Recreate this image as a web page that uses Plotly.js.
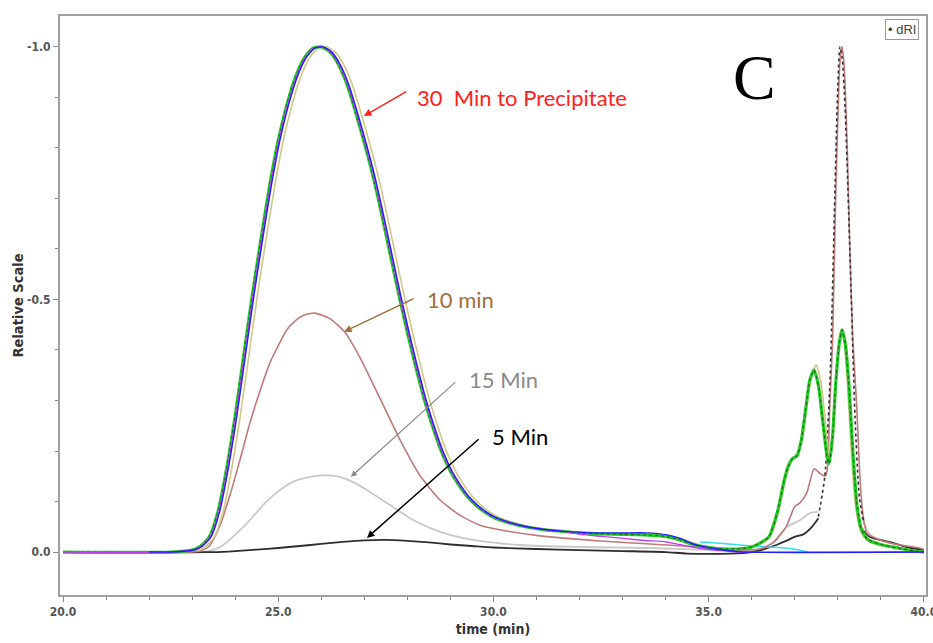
<!DOCTYPE html>
<html>
<head>
<meta charset="utf-8">
<script src="https://cdn.plot.ly/plotly-3.0.1.min.js"></script>
<style>html,body{margin:0;padding:0;background:#fff;overflow:hidden;}#chart{width:933px;height:643px;}</style>
</head>
<body>
<div id="chart"></div>
<script>
// ---- 30 min to precipitate (green, main overlaid runs) ----
const tGreen = [20.0, 22.5, 23.0, 23.2, 23.4, 23.6, 23.8, 24.0, 24.2, 24.4, 24.6, 24.8, 25.0, 25.2, 25.4, 25.6, 25.8, 26.0, 26.2, 26.4, 26.6, 26.8, 27.0, 27.2, 27.4, 27.6, 27.8, 28.0, 28.2, 28.4, 28.6, 28.8, 29.0, 29.2, 29.4, 29.6, 29.8, 30.0, 30.4, 30.8, 31.2, 31.6, 32.0, 32.5, 33.0, 33.5, 34.0, 34.3, 34.6, 35.0, 35.4, 35.8, 36.0, 36.2, 36.4, 36.6, 36.75, 36.85, 36.95, 37.05, 37.15, 37.25, 37.35, 37.45, 37.55, 37.65, 37.75, 37.8, 37.88, 37.95, 38.03, 38.1, 38.18, 38.26, 38.35, 38.45, 38.55, 38.7, 39.0, 39.4, 39.8, 40.0];
const yGreen = [0, 0, 0.004, 0.012, 0.03, 0.08, 0.165, 0.27, 0.39, 0.51, 0.62, 0.725, 0.815, 0.885, 0.94, 0.977, 0.997, 1.0, 0.99, 0.965, 0.925, 0.87, 0.81, 0.745, 0.67, 0.59, 0.51, 0.435, 0.365, 0.3, 0.245, 0.197, 0.16, 0.132, 0.109, 0.092, 0.079, 0.069, 0.057, 0.049, 0.044, 0.041, 0.038, 0.036, 0.035, 0.034, 0.031, 0.025, 0.016, 0.009, 0.006, 0.007, 0.01, 0.018, 0.03, 0.08, 0.14, 0.17, 0.185, 0.19, 0.22, 0.28, 0.34, 0.36, 0.33, 0.26, 0.19, 0.175, 0.23, 0.33, 0.41, 0.44, 0.41, 0.33, 0.2, 0.09, 0.045, 0.025, 0.015, 0.008, 0.002, 0];

const tBlue = [22.0, 22.54, 23.04, 23.24, 23.44, 23.64, 23.84, 24.04, 24.24, 24.44, 24.64, 24.84, 25.04, 25.24, 25.44, 25.64, 25.84, 26.04, 26.24, 26.44, 26.64, 26.84, 27.04, 27.24, 27.44, 27.64, 27.84, 28.04, 28.24, 28.44, 28.64, 28.84, 29.04, 29.24, 29.44, 29.64, 29.84, 30.04, 30.44, 30.84, 31.24, 31.64, 32.04, 32.54, 33.04, 33.54, 34.04, 34.34, 34.64, 35.04, 35.44, 35.8, 40.0];
const yBlue = [0, 0, 0.004, 0.012, 0.03, 0.08, 0.165, 0.27, 0.39, 0.51, 0.62, 0.725, 0.815, 0.885, 0.94, 0.977, 0.997, 1.0, 0.99, 0.965, 0.925, 0.87, 0.81, 0.745, 0.67, 0.59, 0.51, 0.435, 0.365, 0.3, 0.245, 0.197, 0.16, 0.132, 0.109, 0.092, 0.079, 0.069, 0.057, 0.049, 0.044, 0.041, 0.039, 0.038, 0.038, 0.038, 0.034, 0.027, 0.016, 0.008, 0.003, 0, 0];

const tMagenta = [20.0, 22.52, 23.02, 23.22, 23.42, 23.62, 23.82, 24.02, 24.22, 24.42, 24.62, 24.82, 25.02, 25.22, 25.42, 25.62, 25.82, 26.02, 26.22, 26.42, 26.62, 26.82, 27.02, 27.22, 27.42, 27.62, 27.82, 28.02, 28.22, 28.42, 28.62, 28.82, 29.02, 29.22, 29.42, 29.62, 29.82, 30.02, 30.42, 30.82, 31.22, 31.62, 32.02, 32.52, 33.02, 33.52, 34.02, 34.32, 34.62, 35.02, 35.42, 35.8, 40.0];
const yMagenta = [0, 0, 0.004, 0.012, 0.03, 0.08, 0.165, 0.27, 0.39, 0.51, 0.62, 0.725, 0.815, 0.885, 0.94, 0.977, 0.997, 1.0, 0.99, 0.965, 0.925, 0.87, 0.81, 0.745, 0.67, 0.59, 0.51, 0.435, 0.365, 0.3, 0.245, 0.197, 0.16, 0.132, 0.109, 0.092, 0.079, 0.069, 0.057, 0.049, 0.044, 0.041, 0.035, 0.031, 0.027, 0.023, 0.02, 0.015, 0.01, 0.005, 0.002, 0, 0];

const tOlive = [22.5, 23.12, 23.32, 23.52, 23.72, 23.92, 24.12, 24.32, 24.52, 24.72, 24.92, 25.12, 25.32, 25.52, 25.72, 25.92, 26.12, 26.32, 26.52, 26.72, 26.92, 27.12, 27.32, 27.52, 27.72, 27.92, 28.12, 28.32, 28.52, 28.72, 28.92, 29.12, 29.32, 29.52, 29.72, 29.92, 30.12, 30.52, 30.92, 31.32, 31.72, 32.12, 32.62, 33.12, 33.62, 34.12, 34.42, 34.72, 35.12, 35.52, 35.9, 36.1, 36.3, 36.5, 36.65, 36.8, 36.9, 37.0, 37.1, 37.2, 37.3, 37.4, 37.5, 37.6, 37.7, 37.8, 37.85, 37.92, 38.0, 38.07, 38.14, 38.22, 38.3, 38.4, 38.5, 38.6, 38.75, 39.05, 39.45, 39.85, 40.0];
const yOlive = [0, 0.004, 0.012, 0.03, 0.08, 0.165, 0.27, 0.39, 0.51, 0.62, 0.725, 0.815, 0.885, 0.94, 0.977, 0.997, 1.0, 0.99, 0.965, 0.925, 0.87, 0.81, 0.745, 0.67, 0.59, 0.51, 0.435, 0.365, 0.3, 0.245, 0.197, 0.16, 0.132, 0.109, 0.092, 0.079, 0.069, 0.057, 0.049, 0.044, 0.041, 0.038, 0.036, 0.035, 0.034, 0.031, 0.025, 0.016, 0.009, 0.006, 0.008, 0.012, 0.02, 0.045, 0.09, 0.15, 0.175, 0.19, 0.2, 0.235, 0.3, 0.355, 0.37, 0.34, 0.27, 0.19, 0.2, 0.3, 0.39, 0.44, 0.42, 0.34, 0.22, 0.1, 0.05, 0.03, 0.02, 0.012, 0.007, 0.002, 0];

const tCyan = [34.8, 35.2, 35.6, 36.0, 36.4, 36.8, 37.1, 37.3];
const yCyan = [0.02, 0.018, 0.015, 0.012, 0.01, 0.008, 0.004, 0];

// ---- 10 min ----
const t10 = [20.0, 23.0, 23.2, 23.4, 23.65, 23.88, 24.11, 24.34, 24.58, 24.81, 25.04, 25.2, 25.39, 25.6, 25.85, 26.2, 26.55, 26.9, 27.36, 27.83, 28.29, 28.76, 29.22, 29.69, 30.15, 31.08, 32.47, 33.64, 34.8, 35.73, 36.19, 36.5, 36.8, 37.0, 37.12, 37.28, 37.45, 37.58, 37.7, 37.75, 37.82, 37.88, 37.95, 38.0, 38.05, 38.1, 38.15, 38.22, 38.28, 38.35, 38.44, 38.51, 38.58, 38.68, 38.98, 39.44, 39.9, 40.0];
const y10 = [0, 0, 0.002, 0.012, 0.053, 0.113, 0.182, 0.255, 0.32, 0.375, 0.415, 0.44, 0.457, 0.469, 0.473, 0.462, 0.435, 0.385, 0.305, 0.222, 0.152, 0.103, 0.073, 0.053, 0.044, 0.032, 0.022, 0.016, 0.01, 0.004, 0.006, 0.018, 0.05, 0.09, 0.097, 0.117, 0.165, 0.156, 0.15, 0.16, 0.3, 0.42, 0.7, 0.85, 0.97, 1.0, 0.96, 0.8, 0.6, 0.42, 0.29, 0.156, 0.078, 0.037, 0.024, 0.014, 0.008, 0.005];

// ---- 15 min ----
const t15 = [20.0, 23.3, 23.65, 24.0, 24.34, 24.69, 25.04, 25.39, 25.74, 26.09, 26.43, 26.78, 27.13, 27.6, 28.06, 28.52, 28.99, 29.69, 30.6, 32.0, 33.64, 35.26, 36.19, 36.5, 36.82, 37.12, 37.35, 37.55, 38.0, 38.55, 38.75, 39.21, 39.67, 40.0];
const y15 = [0, 0, 0.01, 0.034, 0.063, 0.097, 0.123, 0.141, 0.149, 0.152, 0.149, 0.137, 0.119, 0.093, 0.067, 0.048, 0.034, 0.022, 0.014, 0.01, 0.008, 0.004, 0.006, 0.02, 0.05, 0.063, 0.077, 0.08, null, 0.07, 0.034, 0.018, 0.01, 0.004];

// ---- 5 min ----
const t5 = [22.0, 23.5, 24.0, 24.5, 25.0, 25.5, 26.0, 26.5, 27.0, 27.5, 28.0, 28.5, 29.0, 29.5, 30.0, 31.0, 32.0, 33.0, 34.0, 34.5, 35.5, 36.0, 36.3, 36.6, 36.8, 37.0, 37.2, 37.4, 37.55, 38.0, 38.51, 38.75, 38.98, 39.2, 39.6, 40.0];
const y5 = [0, 0, 0.002, 0.005, 0.008, 0.012, 0.016, 0.02, 0.023, 0.024, 0.022, 0.019, 0.015, 0.012, 0.009, 0.006, 0.004, 0.002, 0, -0.003, -0.003, 0, 0.006, 0.015, 0.022, 0.03, 0.035, 0.05, 0.067, null, 0.05, 0.03, 0.024, 0.02, 0.01, 0.004];

// ---- dRI spike (dotted) ----
const tSpike = [37.55, 37.7, 37.82, 37.93, 38.0, 38.05, 38.1, 38.17, 38.28, 38.4, 38.5, 38.6];
const ySpike = [0.07, 0.15, 0.34, 0.7, 0.92, 1.0, 0.98, 0.88, 0.6, 0.27, 0.11, 0.06];

// axis ticks
const xTicks = [20, 25, 30, 35, 40];
const xTickText = ['20.0', '25.0', '30.0', '35.0', '40.0'];
const yTicks = [0, 0.5, 1.0];
const yTickText = ['0.0', '-0.5', '-1.0'];

function line(x, y, color, width, dash, opacity) {
  return {x: x, y: y, type: 'scatter', mode: 'lines', connectgaps: false,
    line: {color: color, width: width, dash: dash || 'solid', shape: 'spline', smoothing: 0.6},
    opacity: opacity || 1, hoverinfo: 'skip', showlegend: false};
}

const traces = [
  line(t15, y15, '#c9c9c9', 1.8),
  line(t5, y5, '#2e2e2e', 1.8),
  line(tCyan, yCyan, '#33e0ee', 1.5),
  line(t10, y10, '#c07a7a', 1.6),
  line(tSpike, ySpike, '#333333', 1.6, 'dot'),
  line(tOlive, yOlive, '#cfc888', 1.6),
  line(tGreen, yGreen, '#22cc22', 3.2),
  line(tGreen, yGreen, '#1f3f1f', 1.2, 'dot', 0.7),
  line(tMagenta, yMagenta, '#c040f0', 1.4),
  line(tBlue, yBlue, '#2020ff', 1.4)
];

const axFam = 'DejaVu Sans Condensed, DejaVu Sans, sans-serif';
const tickFont = {family: axFam, size: 12, color: '#555', weight: 'bold'};
const annFont = 'Lato, "Open Sans", sans-serif';

const layout = {
  width: 933, height: 643,
  margin: {l: 60, r: 7, t: 16, b: 48},
  paper_bgcolor: '#fff', plot_bgcolor: '#fff',
  showlegend: false,
  xaxis: {
    range: [19.93, 40.05], tickmode: 'array', tickvals: xTicks, ticktext: xTickText,
    ticks: 'outside', ticklen: 5, tickcolor: '#888', tickwidth: 1, ticklabeloverflow: 'allow',
    minor: {tickmode: 'linear', tick0: 20, dtick: 1, ticks: 'outside', ticklen: 3, tickcolor: '#888', showgrid: false},
    showline: true, linecolor: '#a0a0a0', linewidth: 2, mirror: true,
    showgrid: false, zeroline: false, tickfont: tickFont,
    title: {text: 'time (min)', font: {family: axFam, size: 14, color: '#333', weight: 'bold'}, standoff: 6}
  },
  yaxis: {
    range: [-0.085, 1.061], tickmode: 'array', tickvals: yTicks, ticktext: yTickText,
    ticks: 'outside', ticklen: 5, tickcolor: '#888', tickwidth: 1,
    minor: {tickmode: 'linear', tick0: 0, dtick: 0.1, ticks: 'outside', ticklen: 3, tickcolor: '#888', showgrid: false},
    showline: true, linecolor: '#a0a0a0', linewidth: 2, mirror: true,
    showgrid: false, zeroline: false, tickfont: tickFont,
    title: {text: 'Relative Scale', font: {family: axFam, size: 14.5, color: '#333', weight: 'bold'}, standoff: 0}
  },
  annotations: [
    {x: 36.07, y: 0.939, xref: 'x', yref: 'y', text: 'C', showarrow: false,
      font: {family: 'Liberation Serif, serif', size: 64, color: '#000'}},
    {x: 0.972, y: 0.976, xref: 'paper', yref: 'paper', xanchor: 'center', yanchor: 'middle', text: '• dRI', showarrow: false,
      font: {family: 'Liberation Sans, Arial, sans-serif', size: 13, color: '#444'},
      bordercolor: '#999', borderwidth: 1, borderpad: 2, bgcolor: '#fff'},
    {x: 28.18, y: 0.899, xref: 'x', yref: 'y', text: '30  Min to Precipitate', showarrow: false, xanchor: 'left',
      font: {family: annFont, size: 22, color: '#ff2020'}},
    {x: 26.99, y: 0.863, ax: 28.01, ay: 0.913, xref: 'x', yref: 'y', axref: 'x', ayref: 'y', text: '',
      showarrow: true, arrowhead: 2, arrowsize: 1, arrowwidth: 1.5, arrowcolor: '#ff2020'},
    {x: 28.41, y: 0.499, xref: 'x', yref: 'y', text: '10 min', showarrow: false, xanchor: 'left',
      font: {family: annFont, size: 22, color: '#a0703c'}},
    {x: 26.53, y: 0.436, ax: 28.18, ay: 0.503, xref: 'x', yref: 'y', axref: 'x', ayref: 'y', text: '',
      showarrow: true, arrowhead: 2, arrowsize: 1, arrowwidth: 1.5, arrowcolor: '#a0703c'},
    {x: 29.38, y: 0.341, xref: 'x', yref: 'y', text: '15 Min', showarrow: false, xanchor: 'left',
      font: {family: annFont, size: 22, color: '#8a8a8a'}},
    {x: 26.69, y: 0.149, ax: 29.15, ay: 0.339, xref: 'x', yref: 'y', axref: 'x', ayref: 'y', text: '',
      showarrow: true, arrowhead: 2, arrowsize: 1, arrowwidth: 1.2, arrowcolor: '#8a8a8a'},
    {x: 29.92, y: 0.228, xref: 'x', yref: 'y', text: '5 Min', showarrow: false, xanchor: 'left',
      font: {family: annFont, size: 22, color: '#000'}},
    {x: 27.06, y: 0.028, ax: 29.69, ay: 0.226, xref: 'x', yref: 'y', axref: 'x', ayref: 'y', text: '',
      showarrow: true, arrowhead: 2, arrowsize: 1, arrowwidth: 1.5, arrowcolor: '#000'}
  ]
};

Plotly.newPlot('chart', traces, layout, {displayModeBar: false, staticPlot: true});
</script>
</body>
</html>
